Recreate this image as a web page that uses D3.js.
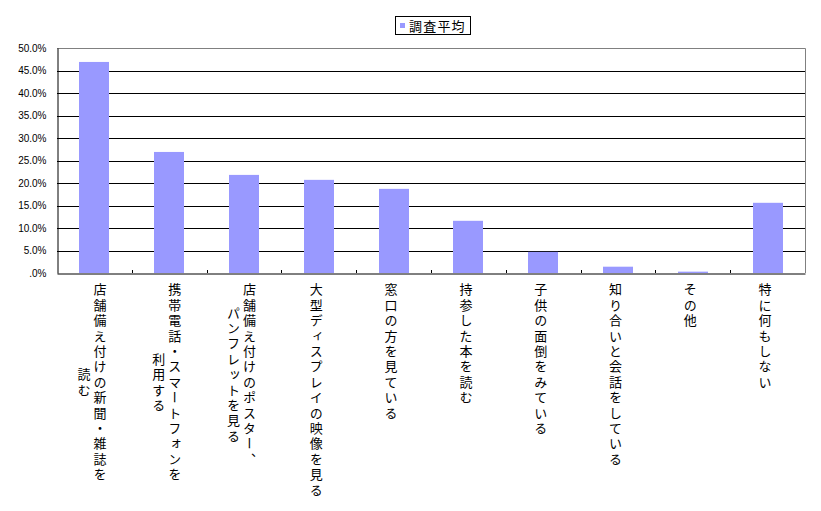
<!DOCTYPE html>
<html><head><meta charset="utf-8">
<script src="https://cdn.jsdelivr.net/npm/d3@7"></script>
<style>
html,body{margin:0;padding:0;background:#fff;}
svg{display:block;}
</style></head>
<body>
<svg id="c" width="821" height="511"></svg>
<script>
// Data
const categories = [
  ["店舗備え付けの新聞・雑誌を", "読む"],
  ["携帯電話・スマートフォンを", "利用する"],
  ["店舗備え付けのポスター、", "パンフレットを見る"],
  ["大型ディスプレイの映像を見る"],
  ["窓口の方を見ている"],
  ["持参した本を読む"],
  ["子供の面倒をみている"],
  ["知り合いと会話をしている"],
  ["その他"],
  ["特に何もしない"]
];
const seriesName = "調査平均";
const values = [46.9, 26.9, 21.8, 20.7, 18.7, 11.6, 4.7, 1.4, 0.3, 15.6];
const yTicks = [0, 5, 10, 15, 20, 25, 30, 35, 40, 45, 50];

const W = 821, H = 511;
const m = {left: 57, right: 805, top: 48, bottom: 273};
const svg = d3.select("#c");

const x = d3.scaleBand().domain(d3.range(categories.length)).range([m.left, m.right]).padding(0);
const y = d3.scaleLinear().domain([0, 50]).range([m.bottom, m.top]);

// gridlines
svg.append("g").selectAll("line").data(yTicks.filter(t => t > 0 && t < 50)).join("line")
  .attr("x1", m.left).attr("x2", m.right)
  .attr("y1", d => Math.round(y(d)) + 0.5).attr("y2", d => Math.round(y(d)) + 0.5)
  .attr("stroke", "#000").attr("stroke-width", 1);

// plot border top/right gray
svg.append("path")
  .attr("d", `M${m.left},${m.top + 0.5}H${m.right + 0.5}V${m.bottom}`)
  .attr("fill", "none").attr("stroke", "#808080").attr("stroke-width", 1);

// bars
const barFrac = 0.4;
svg.append("g").selectAll("rect").data(values).join("rect")
  .attr("x", (d, i) => Math.round(x(i) + x.bandwidth() * (1 - barFrac) / 2))
  .attr("width", Math.round(x.bandwidth() * barFrac))
  .attr("y", d => y(d))
  .attr("height", d => y(0) - y(d))
  .attr("fill", "#9999FF");

// y axis
const yAxis = d3.axisLeft(y).tickValues(yTicks).tickSize(0).tickPadding(11)
  .tickFormat(d => d === 0 ? ".0%" : d.toFixed(1) + "%");
const gy = svg.append("g").attr("transform", `translate(${m.left + 0.5},0)`).call(yAxis);
gy.select(".domain").attr("stroke", "#000");
gy.selectAll("text").attr("font-family", "'Liberation Sans', Arial, sans-serif").attr("font-size", 10).attr("fill", "#000");

// x axis
const xAxis = d3.axisBottom(x).tickSize(0).tickFormat("");
const gx = svg.append("g").attr("transform", `translate(0,${m.bottom + 0.5})`).call(xAxis);
gx.select(".domain").attr("stroke", "#000");
gx.selectAll(".tick").remove();
// inner ticks at category boundaries
svg.append("g").selectAll("line").data(d3.range(1, categories.length)).join("line")
  .attr("x1", d => Math.round(x(d)) + 0.5).attr("x2", d => Math.round(x(d)) + 0.5)
  .attr("y1", m.bottom).attr("y2", m.bottom - 3)
  .attr("stroke", "#000");

// x labels (vertical)
const pitch = 15.4, fs = 13, colGap = 16, labelTop = 283;
const lg = svg.append("g").attr("font-family", "'Noto Sans CJK JP', sans-serif").attr("font-size", fs).attr("fill", "#000");
categories.forEach((cols, i) => {
  const cx = x(i) + x.bandwidth() / 2 - 2.5;
  const n = cols.length;
  const firstLen = cols[0].length * pitch;
  cols.forEach((txt, j) => {
    const colX = cx + (n - 1) / 2 * colGap - j * colGap;
    const len = txt.length * pitch;
    const top = j === 0 ? labelTop : labelTop + (firstLen - len) / 2;
    lg.append("text")
      .attr("x", colX).attr("y", top)
      .attr("style", `writing-mode: vertical-rl; text-orientation: upright; letter-spacing: ${pitch - fs}px;`)
      .text(txt);
  });
});

// legend
const leg = svg.append("g");
leg.append("rect").attr("x", 395.5).attr("y", 16.5).attr("width", 75).attr("height", 18)
  .attr("fill", "#fff").attr("stroke", "#000");
leg.append("rect").attr("x", 400).attr("y", 23).attr("width", 5).attr("height", 5).attr("fill", "#9999FF");
leg.append("text").attr("x", 409).attr("y", 30.5)
  .attr("font-family", "'Noto Sans CJK JP', sans-serif").attr("font-size", 13)
  .attr("letter-spacing", 1.2).attr("fill", "#000").text(seriesName);
</script>
</body></html>
